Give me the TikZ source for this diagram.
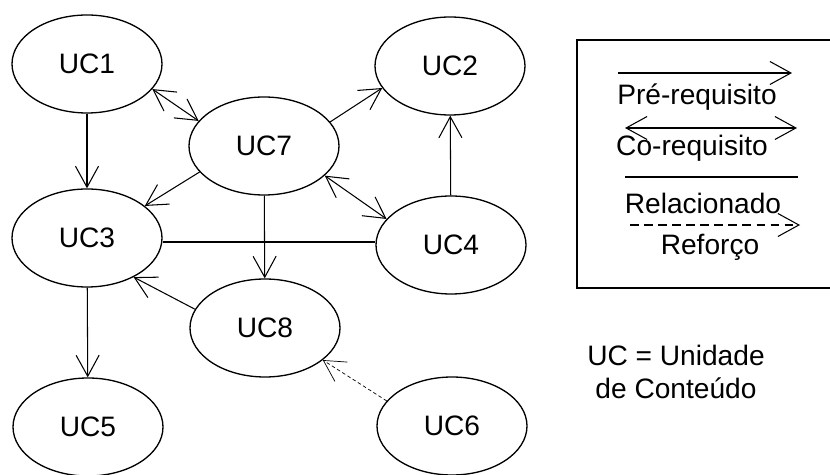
\documentclass[tikz,border=0pt]{standalone}
\usepackage{fontspec}
\setmainfont{Liberation Sans}
\usetikzlibrary{shapes.geometric,arrows.meta,positioning}
\tikzset{
  uc/.style      ={ellipse,draw,line width=0.75pt,minimum width=3.0cm,
                   minimum height=1.96cm,inner sep=0pt,align=center,
                   font=\fontsize{16}{19}\selectfont},
  legtext/.style ={align=center,font=\fontsize{16}{19}\selectfont},
  arr/.style     ={-{Straight Barb[length=4.2mm,width=4.6mm]},line width=0.6pt},
  dblarr/.style  ={{Straight Barb[length=4.2mm,width=4.6mm]}-{Straight Barb[length=4.2mm,width=4.6mm]},line width=0.6pt},
  rel/.style     ={line width=0.6pt},
  reinf/.style   ={-{Straight Barb[length=4.2mm,width=4.6mm]},line width=0.4pt,
                   dash pattern=on 2pt off 1.5pt}
}

\begin{document}
\begin{tikzpicture}
  \useasboundingbox (0,0) rectangle (16.6,9.5);

  % Units
  \node (uc1) at (1.74, 8.22) [uc] {UC1};
  \node (uc2) at (9.00, 8.18) [uc] {UC2};
  \node (uc7) at (5.28, 6.58) [uc] {UC7};
  \node (uc3) at (1.74, 4.74) [uc] {UC3};
  \node (uc4) at (9.02, 4.60) [uc] {UC4};
  \node (uc8) at (5.30, 2.94) [uc] {UC8};
  \node (uc5) at (1.76, 0.96) [uc] {UC5};
  \node (uc6) at (9.04, 0.98) [uc] {UC6};

  % Relations
  \draw[arr] (uc1) -- (uc3);
  \draw[arr] (uc3) -- (uc5);
  \draw[dblarr] (uc1.-21) -- (uc7.159);
  \draw[arr] (uc7.20) -- (uc2.-162);
  \draw[arr] (uc7.-158) -- (uc3.29);
  \draw[arr] (uc7) -- (uc8);
  \draw[dblarr] (uc7.-26) -- (uc4.158);
  \draw[arr] (uc4) -- (uc2);
  \draw[rel] (uc3.east |- 0,4.66) -- (uc4.west |- 0,4.66);
  \draw[arr] (uc8.165) -- (uc3.-40);
  \draw[reinf] (uc6.159) -- (uc8.-29);

  % Legend
  \draw[line width=0.9pt] (16.8, 8.70) -- (11.54, 8.70) -- (11.54, 3.74) -- (16.8, 3.74);
  \coordinate (p1) at (12.36, 8.04);
  \coordinate (p2) at (15.84, 8.04);
  \node (prereq) at (13.94, 7.56) [legtext] {Pré-requisito};
  \coordinate (c1) at (12.50, 6.94);
  \coordinate (c2) at (15.94, 6.94);
  \node (coreq) at (13.84, 6.54) [legtext] {Co-requisito};
  \coordinate (r1) at (12.50, 5.96);
  \coordinate (r2) at (15.96, 5.96);
  \node (related) at (14.06, 5.44) [legtext] {Relacionado};
  \coordinate (f1) at (12.60, 5.00);
  \coordinate (f2) at (16.00, 5.00);
  \node (reforco) at (14.20, 4.56) [legtext] {Reforço};
  \draw[arr] (p1) -- (p2);
  \draw[dblarr] (c1) -- (c2);
  \draw[rel] (r1) -- (r2);
  \draw[arr, dash pattern=on 5pt off 3pt] (f1) -- (f2);

  % Note
  \node (note) at (13.52, 2.06) [legtext] {UC = Unidade\\de Conteúdo};
\end{tikzpicture}
\end{document}
